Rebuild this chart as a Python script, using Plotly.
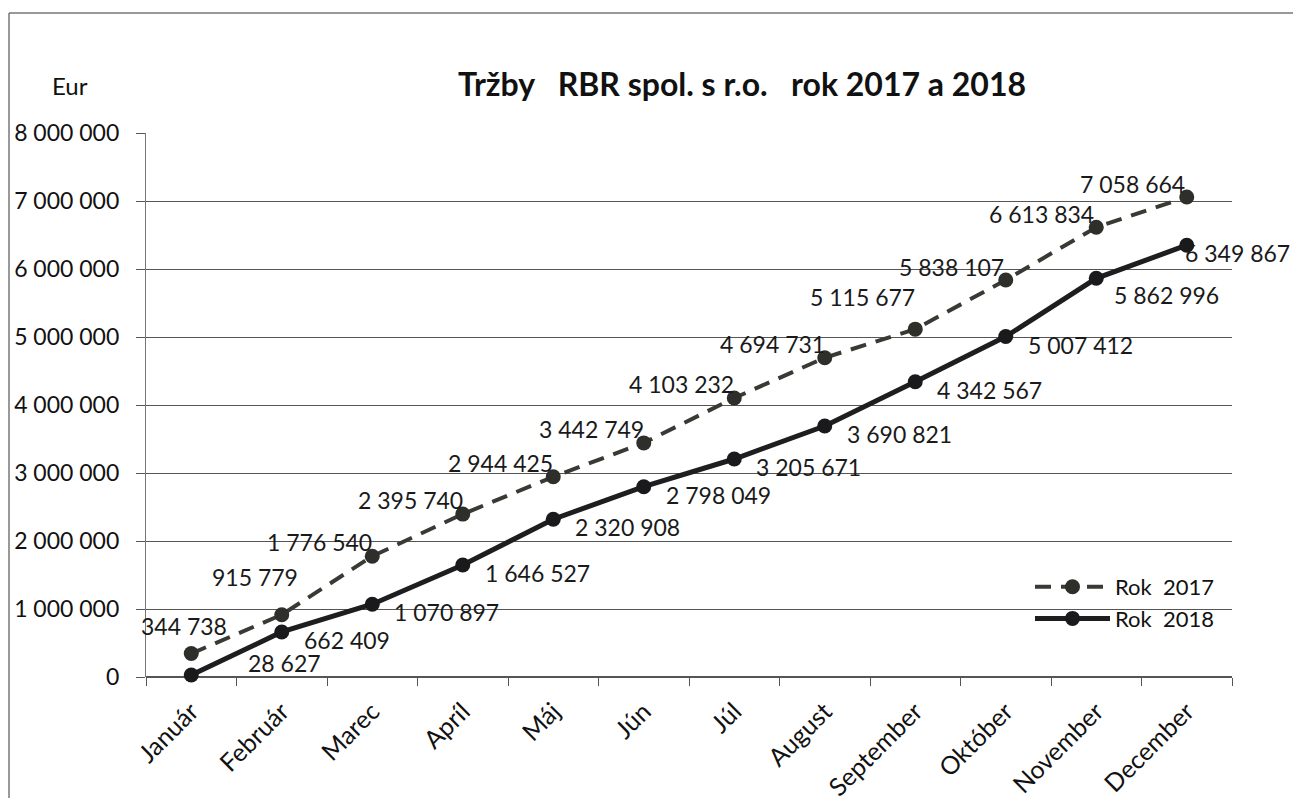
import plotly.graph_objects as go

months = ["Január", "Február", "Marec", "Apríl", "Máj", "Jún", "Júl", "August",
          "September", "Október", "November", "December"]
rok_2017 = [344738, 915779, 1776540, 2395740, 2944425, 3442749, 4103232, 4694731,
            5115677, 5838107, 6613834, 7058664]
rok_2018 = [28627, 662409, 1070897, 1646527, 2320908, 2798049, 3205671, 3690821,
            4342567, 5007412, 5862996, 6349867]
y_ticks = [0, 1000000, 2000000, 3000000, 4000000, 5000000, 6000000, 7000000, 8000000]

FONT = "Lato, 'Open Sans', sans-serif"
OFF = 8  # page body margin
W, H = 1301 - OFF, 801 - OFF
L, R, T, B = 146 - OFF, 1232 - OFF, 133 - OFF, 677 - OFF
pw, ph = R - L, B - T


def px(xp):
    return (xp - OFF - L) / pw


def py(yp):
    return (B - (yp - OFF)) / ph


def fmt(v):
    return f"{v:,d}".replace(",", " ")


# label offsets (pixels) – styling only
shift_2017 = [(38, 28), (18, 38)] + [(2, 14)] * 6 + [(2, 32)] + [(0, 13)] * 3
shift_2018 = [(55, 12)] + [(20, -8)] * 9 + [(16, -17), (-4, -8)]

fig = go.Figure()
fig.add_trace(go.Scatter(
    x=months, y=rok_2017, name="Rok  2017", mode="lines+markers",
    line=dict(color="#3a3a34", width=4, dash="16px,10px"),
    marker=dict(size=15, color="#2e2e2a"), cliponaxis=False,
))
fig.add_trace(go.Scatter(
    x=months, y=rok_2018, name="Rok  2018", mode="lines+markers",
    line=dict(color="#1e1e20", width=5),
    marker=dict(size=15, color="#1a1a1c"), cliponaxis=False,
))

for m, v, (dx, dy) in zip(months, rok_2017, shift_2017):
    fig.add_annotation(x=m, y=v, text=fmt(v), showarrow=False, xanchor="right",
                       yanchor="middle", xshift=dx, yshift=dy,
                       font=dict(size=23, family=FONT, color="#1a1a1a"))
for m, v, (dx, dy) in zip(months, rok_2018, shift_2018):
    fig.add_annotation(x=m, y=v, text=fmt(v), showarrow=False, xanchor="left",
                       yanchor="middle", xshift=dx, yshift=dy,
                       font=dict(size=23, family=FONT, color="#1a1a1a"))

fig.update_layout(
    width=W, height=H,
    margin=dict(l=L, r=W - R, t=T, b=H - B, autoexpand=False),
    paper_bgcolor="white", plot_bgcolor="white",
    separators=". ",
    font=dict(family=FONT, size=22, color="#111"),
    title=dict(text="<b>Tržby   RBR spol. s r.o.   rok 2017 a 2018</b>",
               x=(742 - OFF) / W, xanchor="center", y=1 - (85 - OFF) / H, yanchor="middle",
               font=dict(size=32, family=FONT, color="#111")),
    showlegend=True,
    legend=dict(x=px(1030), y=py(566), xanchor="left", yanchor="top",
                bgcolor="rgba(0,0,0,0)", itemwidth=75,
                font=dict(size=22, family=FONT, color="#111"), tracegroupgap=0),
    xaxis=dict(type="category", categoryorder="array", categoryarray=months,
               showgrid=False, ticks="outside", tickson="boundaries", ticklen=8,
               tickcolor="#555", tickangle=-45, ticklabelstandoff=14,
               tickfont=dict(size=25, family=FONT, color="#111"),
               showline=False, range=[-0.5, 11.5], zeroline=False),
    yaxis=dict(range=[0, 8000000], tickvals=y_ticks, tickformat=",d",
               showgrid=True, gridcolor="#555", gridwidth=1.2,
               showline=True, linecolor="#777", linewidth=1.2,
               zeroline=True, zerolinecolor="#555", zerolinewidth=1.5,
               ticks="outside", ticklen=9, tickcolor="#555", ticklabelstandoff=12,
               tickfont=dict(size=23, family=FONT, color="#111")),
)

fig.add_annotation(text="Eur", x=px(70), y=py(85), xref="paper", yref="paper",
                   showarrow=False, font=dict(size=24, family=FONT, color="#111"),
                   xanchor="center", yanchor="middle")

# outer frame (left and top edges)
fig.add_shape(type="line", xref="paper", yref="paper",
              x0=px(9), x1=px(1301), y0=py(13), y1=py(13),
              line=dict(color="#777", width=1.5))
fig.add_shape(type="line", xref="paper", yref="paper",
              x0=px(9), x1=px(9), y0=py(13), y1=py(798),
              line=dict(color="#777", width=1.5))

fig.write_html("out.html")
